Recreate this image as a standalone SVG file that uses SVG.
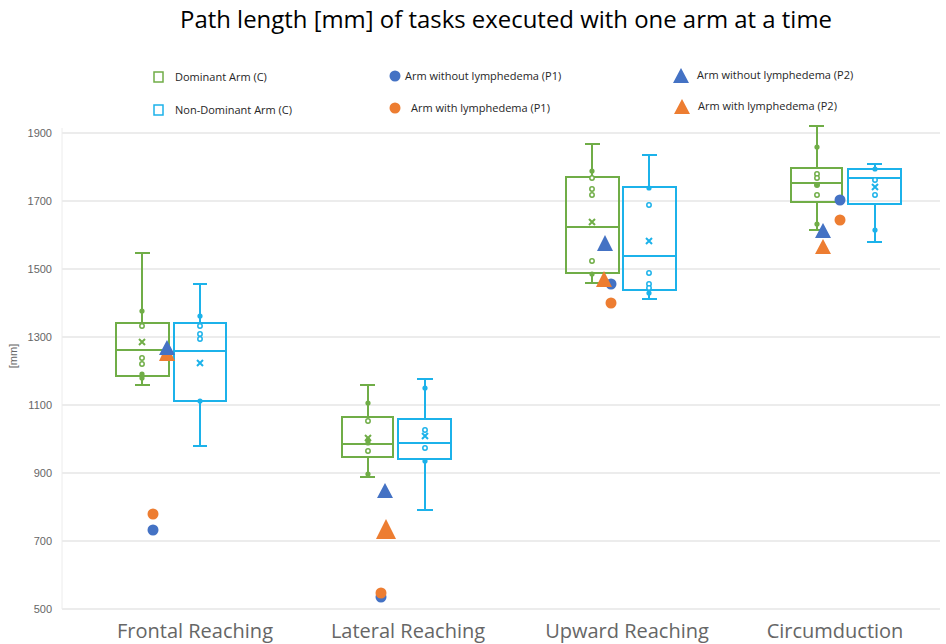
<svg xmlns="http://www.w3.org/2000/svg" width="946" height="644" viewBox="0 0 946 644">
<style>
.bg{fill:#ffffff}
.grid{stroke:#d9d9d9;stroke-width:1}
.tick{font-family:"Liberation Sans",Arial,sans-serif;font-size:11px;fill:#666666;text-anchor:end}
.cat{font-family:"Open Sans","Liberation Sans",sans-serif;font-size:20px;fill:#666666;text-anchor:middle}
.title{font-family:"Open Sans","Liberation Sans",sans-serif;font-size:23px;fill:#000000;text-anchor:middle}
.leg{font-family:"Open Sans","Liberation Sans",sans-serif;font-size:11px;fill:#262626}
.g{stroke:#70ad47;stroke-width:2;fill:none}
.b{stroke:#1cb2ea;stroke-width:2;fill:none}
.gp{fill:#70ad47}
.bp{fill:#1cb2ea}
.go{fill:#ffffff;stroke:#70ad47;stroke-width:1.5}
.bo{fill:#ffffff;stroke:#1cb2ea;stroke-width:1.5}
.m{stroke-width:2;fill:none}
.p1b{fill:#4472c4}
.p1o{fill:#ed7d31}
</style>
<rect class="bg" x="0" y="0" width="946" height="644"/>
<text class="title" x="506" y="28" textLength="652" lengthAdjust="spacingAndGlyphs">Path length [mm] of tasks executed with one arm at a time</text>

<g id="legend">
  <rect x="154" y="72" width="9" height="10" fill="#ffffff" stroke="#70ad47" stroke-width="1.5"/>
  <text class="leg" x="175" y="81">Dominant Arm (C)</text>
  <rect x="154" y="105" width="9" height="10" fill="#ffffff" stroke="#1cb2ea" stroke-width="1.5"/>
  <text class="leg" x="175" y="114">Non-Dominant Arm (C)</text>
  <circle class="p1b" cx="395" cy="76" r="5.5"/>
  <text class="leg" x="405" y="80">Arm without lymphedema (P1)</text>
  <circle class="p1o" cx="395" cy="108" r="5.5"/>
  <text class="leg" x="411" y="112">Arm with lymphedema (P1)</text>
  <path class="p1b" d="M681,68 L689,83 L673,83 Z"/>
  <text class="leg" x="697" y="79">Arm without lymphedema (P2)</text>
  <path class="p1o" d="M682,99 L690,114 L674,114 Z"/>
  <text class="leg" x="698" y="110">Arm with lymphedema (P2)</text>
</g>

<g id="axis">
  <line class="grid" x1="62" y1="133" x2="940" y2="133"/>
  <line class="grid" x1="62" y1="201" x2="940" y2="201"/>
  <line class="grid" x1="62" y1="269" x2="940" y2="269"/>
  <line class="grid" x1="62" y1="337" x2="940" y2="337"/>
  <line class="grid" x1="62" y1="405" x2="940" y2="405"/>
  <line class="grid" x1="62" y1="473" x2="940" y2="473"/>
  <line class="grid" x1="62" y1="541" x2="940" y2="541"/>
  <line class="grid" x1="62" y1="609" x2="940" y2="609"/>
  <line x1="62" y1="128" x2="62" y2="609" stroke="#ececec" stroke-width="1"/>
  <text class="tick" x="52" y="137">1900</text>
  <text class="tick" x="52" y="205">1700</text>
  <text class="tick" x="52" y="273">1500</text>
  <text class="tick" x="52" y="341">1300</text>
  <text class="tick" x="52" y="409">1100</text>
  <text class="tick" x="52" y="477">900</text>
  <text class="tick" x="52" y="545">700</text>
  <text class="tick" x="52" y="613">500</text>
  <text class="tick" x="0" y="0" transform="translate(17,356) rotate(-90)" style="text-anchor:middle">[mm]</text>
  <text class="cat" x="195" y="638">Frontal Reaching</text>
  <text class="cat" x="408" y="638">Lateral Reaching</text>
  <text class="cat" x="627" y="638">Upward Reaching</text>
  <text class="cat" x="835" y="638">Circumduction</text>
</g>

<g id="frontal">
  <g id="frontal-dom">
    <path class="g" d="M142,253 V323 M142,376 V385 M135,253 H150 M135,385 H150"/>
    <rect class="g" x="116" y="323" width="53" height="53"/>
    <line class="g" x1="116" y1="350" x2="169" y2="350"/>
    <path class="g m" d="M139,339 L145,345 M145,339 L139,345"/>
    <circle class="gp" cx="142" cy="311" r="2.6"/>
    <circle class="go" cx="142" cy="326" r="2.2"/>
    <circle class="go" cx="142" cy="358" r="2.2"/>
    <circle class="go" cx="142" cy="364" r="2.2"/>
    <circle class="gp" cx="142" cy="374" r="2.6"/>
    <circle class="gp" cx="142" cy="378" r="2.6"/>
  </g>
  <g id="frontal-nondom">
    <path class="b" d="M200,284 V323 M200,401 V446 M193,284 H207 M193,446 H207"/>
    <rect class="b" x="174" y="323" width="52" height="78"/>
    <line class="b" x1="174" y1="351" x2="226" y2="351"/>
    <path class="b m" d="M197,360 L203,366 M203,360 L197,366"/>
    <circle class="bp" cx="200" cy="316" r="2.6"/>
    <circle class="bo" cx="200" cy="326" r="2.2"/>
    <circle class="bo" cx="200" cy="334" r="2.2"/>
    <circle class="bo" cx="200" cy="339" r="2.2"/>
    <circle class="bp" cx="200" cy="401" r="2.6"/>
  </g>
  <path class="p1o" d="M167,344 L175,361 L159,361 Z"/>
  <path class="p1b" d="M167,340 L175,355 L159,355 Z"/>
  <circle class="p1o" cx="153" cy="514" r="5.5"/>
  <circle class="p1b" cx="153" cy="530" r="5.5"/>
</g>

<g id="lateral">
  <g id="lateral-dom">
    <path class="g" d="M368,385 V417 M368,457 V477 M360,385 H375 M360,477 H375"/>
    <rect class="g" x="342" y="417" width="51" height="40"/>
    <line class="g" x1="342" y1="444" x2="393" y2="444"/>
    <path class="g m" d="M365,435 L371,441 M371,435 L365,441"/>
    <circle class="gp" cx="368" cy="403" r="2.6"/>
    <circle class="go" cx="368" cy="421" r="2.2"/>
    <circle class="gp" cx="368" cy="440" r="2.6"/>
    <circle class="gp" cx="368" cy="443" r="2.6"/>
    <circle class="go" cx="368" cy="451" r="2.2"/>
    <circle class="gp" cx="368" cy="474" r="2.6"/>
  </g>
  <g id="lateral-nondom">
    <path class="b" d="M425,379 V419 M425,459 V510 M417,379 H433 M417,510 H433"/>
    <rect class="b" x="398" y="419" width="53" height="40"/>
    <line class="b" x1="398" y1="443" x2="451" y2="443"/>
    <path class="b m" d="M422,433 L428,439 M428,433 L422,439"/>
    <circle class="bp" cx="425" cy="388" r="2.6"/>
    <circle class="bo" cx="425" cy="430" r="2.2"/>
    <circle class="bo" cx="425" cy="448" r="2.2"/>
    <circle class="bp" cx="425" cy="461" r="2.6"/>
  </g>
  <path class="p1b" d="M385,483 L393,498 L377,498 Z"/>
  <path class="p1o" d="M386,519 L396,539 L376,539 Z"/>
  <circle class="p1b" cx="381" cy="597" r="5.5"/>
  <circle class="p1o" cx="381" cy="593" r="5.5"/>
</g>

<g id="upward">
  <g id="upward-dom">
    <path class="g" d="M592,144 V177 M592,273 V283 M585,144 H600 M585,283 H600"/>
    <rect class="g" x="566" y="177" width="53" height="96"/>
    <line class="g" x1="566" y1="227" x2="619" y2="227"/>
    <path class="g m" d="M589,219 L595,225 M595,219 L589,225"/>
    <circle class="gp" cx="592" cy="171" r="2.6"/>
    <circle class="go" cx="592" cy="178" r="2.2"/>
    <circle class="go" cx="592" cy="189" r="2.2"/>
    <circle class="go" cx="592" cy="195" r="2.2"/>
    <circle class="go" cx="592" cy="261" r="2.2"/>
    <circle class="gp" cx="592" cy="274" r="2.6"/>
  </g>
  <g id="upward-nondom">
    <path class="b" d="M649,155 V187 M649,290 V299 M642,155 H657 M642,299 H657"/>
    <rect class="b" x="623" y="187" width="53" height="103"/>
    <line class="b" x1="623" y1="256" x2="676" y2="256"/>
    <path class="b m" d="M646,238 L652,244 M652,238 L646,244"/>
    <circle class="bp" cx="649" cy="188" r="2.6"/>
    <circle class="bo" cx="649" cy="205" r="2.2"/>
    <circle class="bo" cx="649" cy="273" r="2.2"/>
    <circle class="bo" cx="649" cy="284" r="2.2"/>
    <circle class="bo" cx="649" cy="288" r="2.2"/>
    <circle class="bp" cx="649" cy="293" r="2.6"/>
  </g>
  <path class="p1b" d="M605,235 L613,251 L597,251 Z"/>
  <circle class="p1b" cx="611" cy="284" r="5.5"/>
  <path class="p1o" d="M604,271 L612,287 L596,287 Z"/>
  <circle class="p1o" cx="611" cy="303" r="5.5"/>
</g>

<g id="circumduction">
  <g id="circ-dom">
    <path class="g" d="M817,126 V168 M817,202 V230 M809,126 H824 M809,230 H824"/>
    <rect class="g" x="791" y="168" width="51" height="34"/>
    <line class="g" x1="791" y1="183" x2="842" y2="183"/>
    <circle class="gp" cx="817" cy="147" r="2.6"/>
    <circle class="go" cx="817" cy="174" r="2.2"/>
    <circle class="go" cx="817" cy="178" r="2.2"/>
    <circle class="gp" cx="817" cy="185" r="3"/>
    <circle class="go" cx="817" cy="195" r="2.2"/>
    <circle class="gp" cx="817" cy="224" r="2.6"/>
  </g>
  <g id="circ-nondom">
    <path class="b" d="M875,164 V169 M875,204 V242 M867,164 H882 M867,242 H882"/>
    <rect class="b" x="848" y="169" width="53" height="35"/>
    <line class="b" x1="848" y1="178" x2="901" y2="178"/>
    <path class="b m" d="M872,184 L878,190 M878,184 L872,190"/>
    <circle class="bp" cx="875" cy="169" r="2.6"/>
    <circle class="bo" cx="875" cy="180" r="2.2"/>
    <circle class="bo" cx="875" cy="195" r="2.2"/>
    <circle class="bp" cx="875" cy="230" r="2.6"/>
  </g>
  <circle class="p1b" cx="840" cy="200" r="5.5"/>
  <circle class="p1o" cx="840" cy="220" r="5.5"/>
  <path class="p1b" d="M823,223 L831,238 L815,238 Z"/>
  <path class="p1o" d="M823,239 L831,254 L815,254 Z"/>
</g>
</svg>
